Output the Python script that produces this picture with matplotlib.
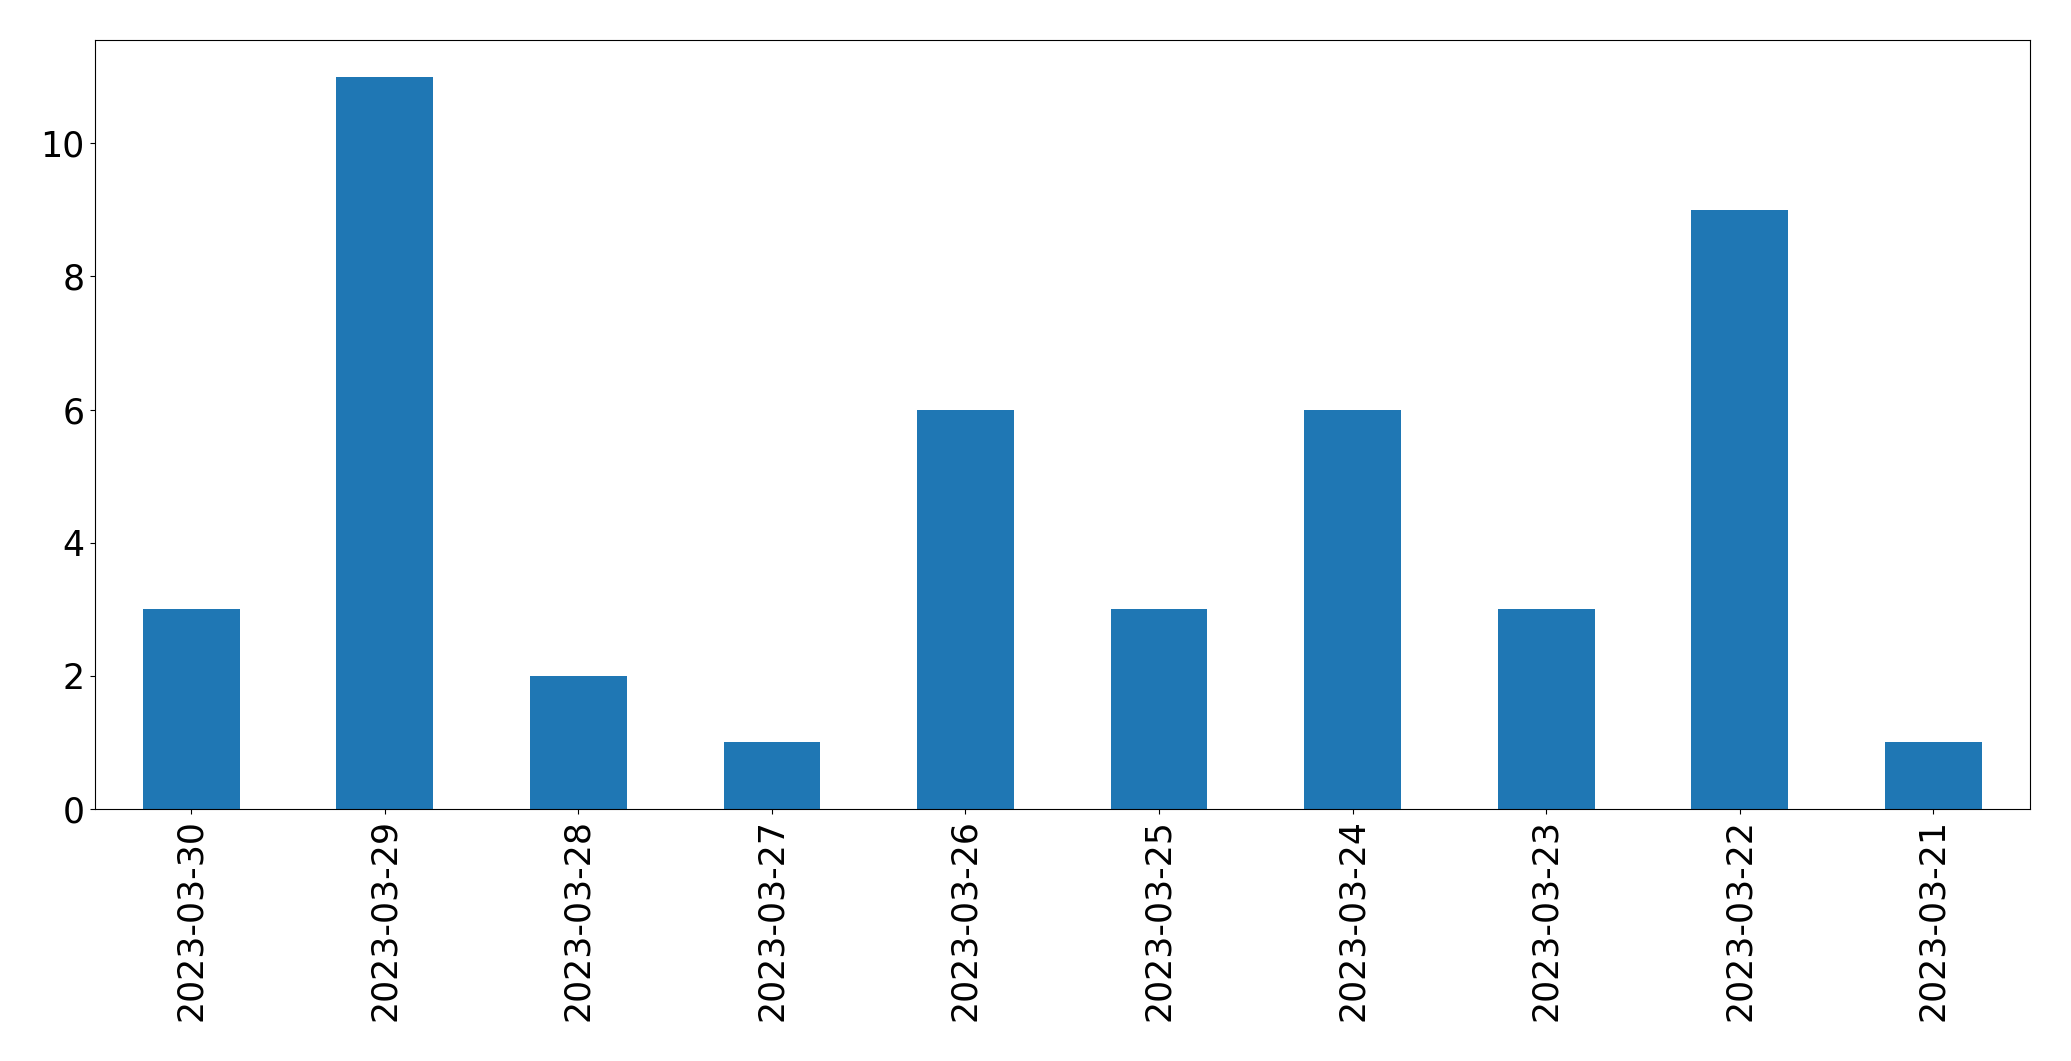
import matplotlib
matplotlib.use("Agg")
import matplotlib.pyplot as plt

dates = ["2023-03-30", "2023-03-29", "2023-03-28", "2023-03-27", "2023-03-26",
         "2023-03-25", "2023-03-24", "2023-03-23", "2023-03-22", "2023-03-21"]
counts = [3, 11, 2, 1, 6, 3, 6, 3, 9, 1]

fig = plt.figure(figsize=(20.71, 10.61), dpi=100)
ax = fig.add_axes([94.5/2071, 1-809/1061, (2030-94.5)/2071, (809-40)/1061])
x = list(range(len(dates)))
ax.bar(x, counts, width=0.5, color="#1f77b4")
ax.set_xlim(-0.5, len(dates)-0.5)
ax.set_ylim(0, max(counts)*1.05)
ax.set_xticks(x)
ax.set_xticklabels(dates, rotation=90)
ax.tick_params(labelsize=25)
fig.savefig("out.png", dpi=100)
